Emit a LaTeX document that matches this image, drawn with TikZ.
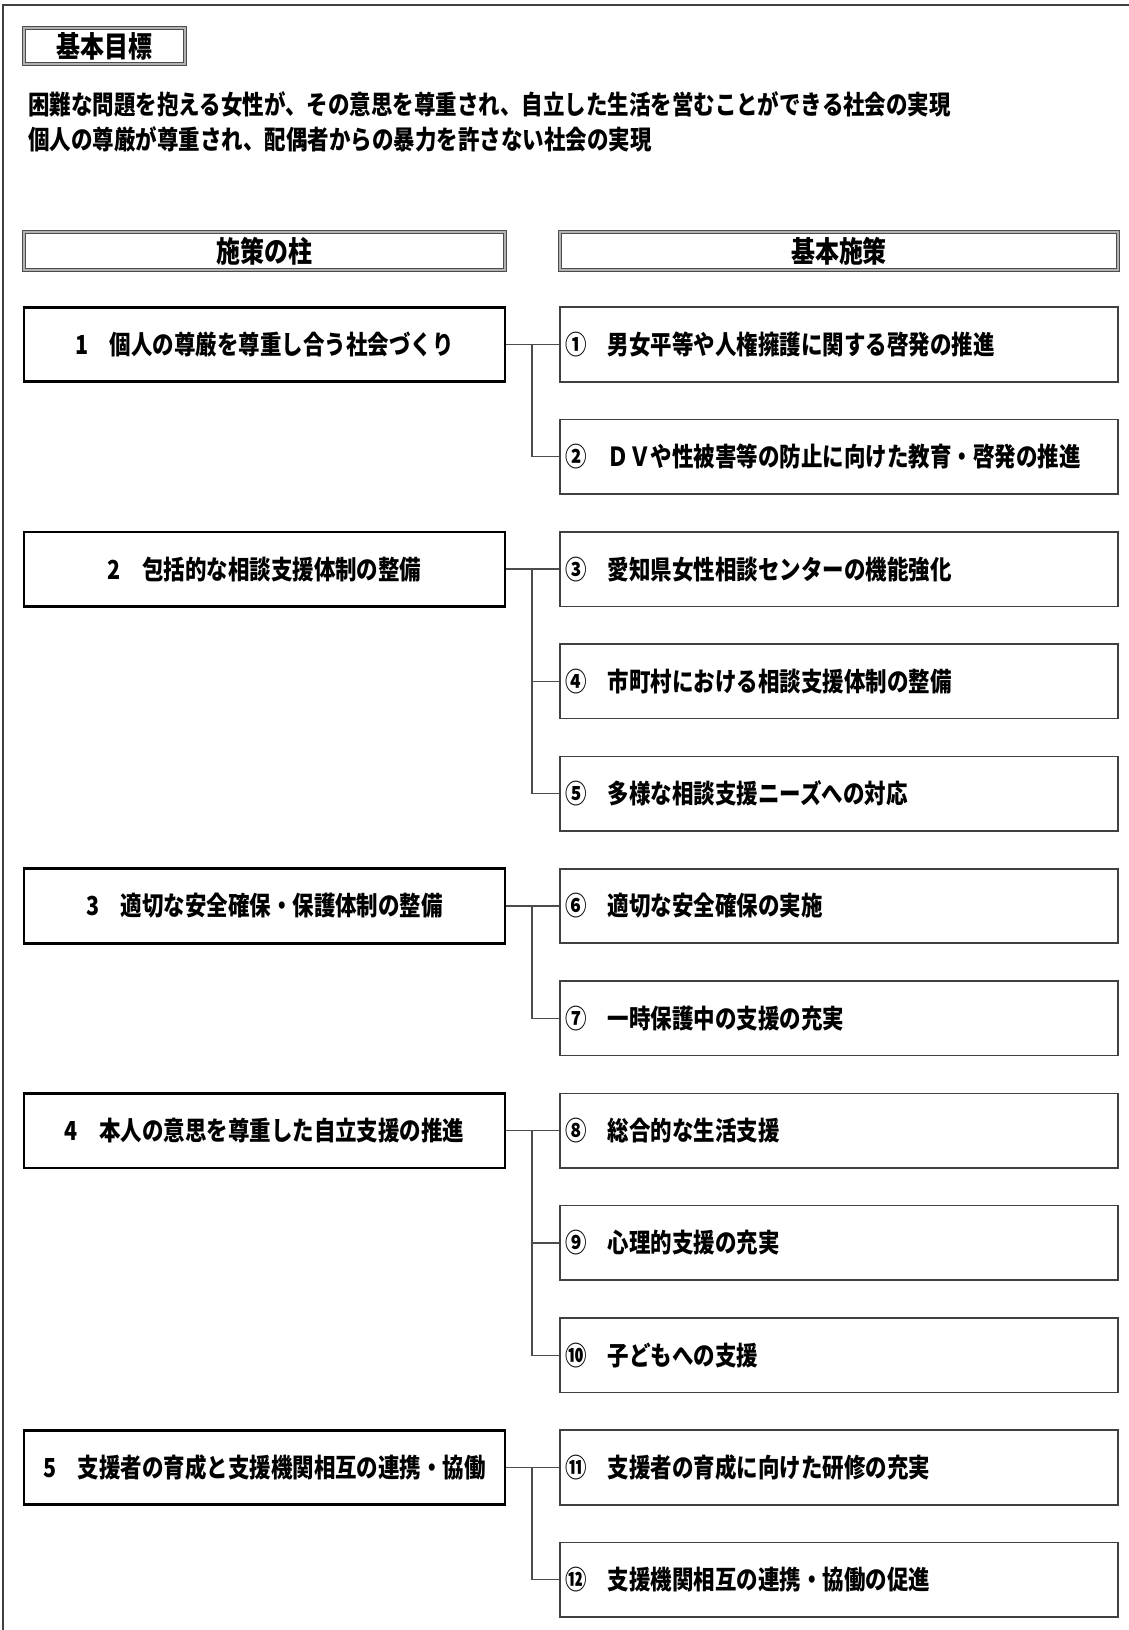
\documentclass[tikz,border=0pt]{standalone}
\usepackage{fontspec}
\setmainfont{Noto Sans CJK JP}[FakeStretch=0.82]
\newcommand\bodyfs{\fontsize{13.1}{15}\selectfont}
\newcommand\hdrfs{\fontsize{14.6}{16}\selectfont}
\tikzset{
  frameline/.style={draw=black!75, line width=0.8pt},
  hdrbox/.style={draw=black!70, double=black!30, double distance=1.1pt, line width=0.55pt,
    inner sep=0pt, font=\bfseries\hdrfs},
  lbox/.style={draw=black, line width=1.3pt, minimum width=240.5pt, minimum height=37.25pt,
    inner sep=0pt, font=\bfseries\bodyfs},
  rbox/.style={draw=black!75, line width=0.8pt, minimum height=37.25pt,
    inner xsep=2.5pt, inner ysep=0pt, text width=274pt, align=left, font=\bfseries\bodyfs},
  conn/.style={draw=black!70, line width=0.65pt},
  plain/.style={inner sep=0pt, anchor=west, font=\bfseries\bodyfs}
}
\begin{document}
\begin{tikzpicture}[x=0.5pt,y=-0.5pt]
\useasboundingbox (0,0) rectangle (1129,1630);
\fill[white] (0,0) rectangle (1129,1630);
% outer frame (cropped at right and bottom)
\draw[frameline] (3,1630) -- (3,5) -- (1129,5);

% goal
\node[hdrbox, minimum width=80.5pt, minimum height=18pt] (goal) at (104.5,46) {基本目標};
\node[plain] (g1) at (28,104) {困難な問題を抱える女性が、その意思を尊重され、自立した生活を営むことができる社会の実現};
\node[plain] (g2) at (28,139) {個人の尊厳が尊重され、配偶者からの暴力を許さない社会の実現};

% headers
\node[hdrbox, minimum width=240.5pt, minimum height=19pt] (hl) at (264.5,251) {施策の柱};
\node[hdrbox, minimum width=279pt, minimum height=19pt] (hr) at (839,251) {基本施策};

% trunk x
\coordinate (tx) at (532,0);

% left boxes
\node[lbox] (L1) at (264.5,344.5) {1　個人の尊厳を尊重し合う社会づくり};
\node[lbox] (L2) at (264.5,569.1) {2　包括的な相談支援体制の整備};
\node[lbox] (L3) at (264.5,906.0) {3　適切な安全確保・保護体制の整備};
\node[lbox] (L4) at (264.5,1130.6) {4　本人の意思を尊重した自立支援の推進};
\node[lbox] (L5) at (264.5,1467.5) {5　支援者の育成と支援機関相互の連携・協働};

% right boxes
\node[rbox] (R1) at (839,344.5) {①　男女平等や人権擁護に関する啓発の推進};
\node[rbox] (R2) at (839,456.8) {②　ＤＶや性被害等の防止に向けた教育・啓発の推進};
\node[rbox] (R3) at (839,569.1) {③　愛知県女性相談センターの機能強化};
\node[rbox] (R4) at (839,681.4) {④　市町村における相談支援体制の整備};
\node[rbox] (R5) at (839,793.7) {⑤　多様な相談支援ニーズへの対応};
\node[rbox] (R6) at (839,906.0) {⑥　適切な安全確保の実施};
\node[rbox] (R7) at (839,1018.3) {⑦　一時保護中の支援の充実};
\node[rbox] (R8) at (839,1130.6) {⑧　総合的な生活支援};
\node[rbox] (R9) at (839,1242.9) {⑨　心理的支援の充実};
\node[rbox] (R10) at (839,1355.2) {⑩　子どもへの支援};
\node[rbox] (R11) at (839,1467.5) {⑪　支援者の育成に向けた研修の充実};
\node[rbox] (R12) at (839,1579.8) {⑫　支援機関相互の連携・協働の促進};

% connectors
\draw[conn] (L1.east) -- (R1.west);
\draw[conn] (R1.west -| tx) |- (R2.west);

\draw[conn] (L2.east) -- (R3.west);
\draw[conn] (R3.west -| tx) |- (R5.west);
\draw[conn] (R4.west -| tx) -- (R4.west);

\draw[conn] (L3.east) -- (R6.west);
\draw[conn] (R6.west -| tx) |- (R7.west);

\draw[conn] (L4.east) -- (R8.west);
\draw[conn] (R8.west -| tx) |- (R10.west);
\draw[conn] (R9.west -| tx) -- (R9.west);

\draw[conn] (L5.east) -- (R11.west);
\draw[conn] (R11.west -| tx) |- (R12.west);
\end{tikzpicture}
\end{document}
